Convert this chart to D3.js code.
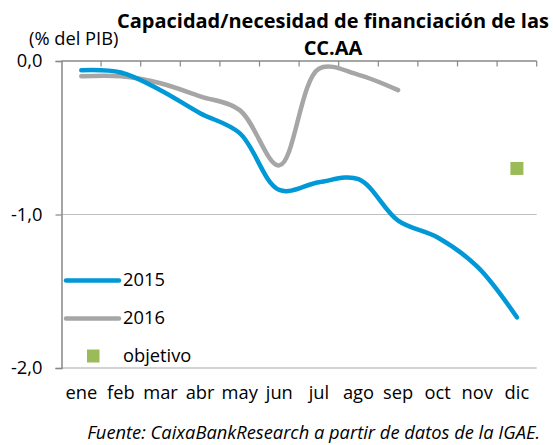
<!DOCTYPE html>
<html><head><meta charset="utf-8">
<script src="https://cdn.jsdelivr.net/npm/d3@7"></script>
<style>body{margin:0;background:#fff}svg{display:block}text{font-family:"Open Sans",sans-serif;fill:#000}</style>
</head><body><svg id="c" width="553" height="445"></svg>
<script>
const months = ["ene","feb","mar","abr","may","jun","jul","ago","sep","oct","nov","dic"];
const s2015 = [-0.06,-0.075,-0.19,-0.34,-0.47,-0.84,-0.79,-0.77,-1.04,-1.15,-1.34,-1.67];
const s2016 = [-0.10,-0.10,-0.145,-0.23,-0.32,-0.68,-0.05,-0.09,-0.19];
const objetivo = [{m:"dic", v:-0.70}];
const yTicks = [0,-1,-2];
const yTickLabels = ["0,0","-1,0","-2,0"];
const titleLines = ["Capacidad/necesidad de financiación de las","CC.AA"];
const unitLabel = "(% del PIB)";
const sourceText = "Fuente: CaixaBankResearch a partir de datos de la IGAE.";

const svg = d3.select("#c");
const L=61.5, R=536.7, T=61, B=368;
const x = d3.scaleBand().domain(months).range([L,R]);
const y = d3.scaleLinear().domain([-2,0]).range([B,T]);
const cx = m => x(m)+x.bandwidth()/2;

function fitSize(txt, target, weight, style){
  const t = svg.append("text").attr("font-size",20).attr("font-weight",weight||"normal").attr("font-style",style||"normal").text(txt);
  const w = t.node().getComputedTextLength(); t.remove();
  return 20*target/w;
}
const bodyFs = fitSize(sourceText, 453, "normal", "italic");
const titleFs = fitSize(titleLines[0], 432, "bold");

// gridlines
svg.append("g").selectAll("line").data([-1,-2]).join("line")
  .attr("x1",L).attr("x2",R).attr("y1",d=>y(d)).attr("y2",d=>y(d))
  .attr("stroke",d=>d===-1?"#C0C0C0":"#A8A8A8").attr("stroke-width",1.2);

// left axis
const ya = d3.axisLeft(y).tickValues(yTicks).tickFormat(d=>yTickLabels[yTicks.indexOf(d)]).tickSize(6).tickPadding(13);
const gy = svg.append("g").attr("transform",`translate(${L},0)`).call(ya);
gy.select(".domain").attr("stroke","#888").attr("stroke-width",1.5);
gy.selectAll(".tick line").attr("stroke","#888").attr("stroke-width",1.2);
gy.selectAll("text").attr("font-size",bodyFs).attr("font-family","'Open Sans',sans-serif").attr("dy","0.3em");

// category axis at 0 with ticks down
svg.append("line").attr("x1",L).attr("x2",R).attr("y1",y(0)).attr("y2",y(0)).attr("stroke","#888").attr("stroke-width",1.5);
const edges = months.map(m=>x(m)+x.bandwidth());
svg.append("g").selectAll("line").data(edges).join("line")
  .attr("x1",d=>d).attr("x2",d=>d).attr("y1",y(0)).attr("y2",y(0)+5.5)
  .attr("stroke","#888").attr("stroke-width",1.2);

// category labels at bottom
svg.append("g").selectAll("text").data(months).join("text")
  .attr("x",cx).attr("y",399).attr("text-anchor","middle").attr("font-size",bodyFs).text(d=>d);

// lines
const line = d3.line().x(d=>cx(d.m)).y(d=>y(d.v)).curve(d3.curveCatmullRom.alpha(0.5));
const d15 = s2015.map((v,i)=>({m:months[i],v}));
const d16 = s2016.map((v,i)=>({m:months[i],v}));
svg.append("path").datum(d16).attr("d",line).attr("fill","none").attr("stroke","#A6A6A6").attr("stroke-width",4.5).attr("stroke-linecap","round");
svg.append("path").datum(d15).attr("d",line).attr("fill","none").attr("stroke","#0098D6").attr("stroke-width",4.5).attr("stroke-linecap","round");
svg.append("g").selectAll("rect").data(objetivo).join("rect")
  .attr("x",d=>cx(d.m)-6.5).attr("y",d=>y(d.v)-6.5).attr("width",13).attr("height",13).attr("fill","#9BBB59");

// legend
const leg = [{t:"2015",c:"#0098D6",y:280.5,type:"line"},{t:"2016",c:"#A6A6A6",y:318.5,type:"line"},{t:"objetivo",c:"#9BBB59",y:356,type:"rect"}];
leg.forEach(l=>{
  if(l.type==="line") svg.append("line").attr("x1",66).attr("x2",119).attr("y1",l.y).attr("y2",l.y).attr("stroke",l.c).attr("stroke-width",4.5).attr("stroke-linecap","round");
  else svg.append("rect").attr("x",87).attr("y",l.y-6.5).attr("width",12.5).attr("height",13).attr("fill",l.c);
  svg.append("text").attr("x",123).attr("y",l.y+5.5).attr("font-size",bodyFs).text(l.t);
});

// titles
svg.append("g").selectAll("text").data(titleLines).join("text")
  .attr("x",333).attr("y",(d,i)=>i===0?28:55).attr("text-anchor","middle")
  .attr("font-size",titleFs).attr("font-weight","bold").text(d=>d);
svg.append("text").attr("x",29).attr("y",44.5).attr("font-size",bodyFs).text(unitLabel);
svg.append("text").attr("x",540).attr("y",439).attr("text-anchor","end").attr("font-size",bodyFs).attr("font-style","italic")
  .text(sourceText);
</script></body></html>
